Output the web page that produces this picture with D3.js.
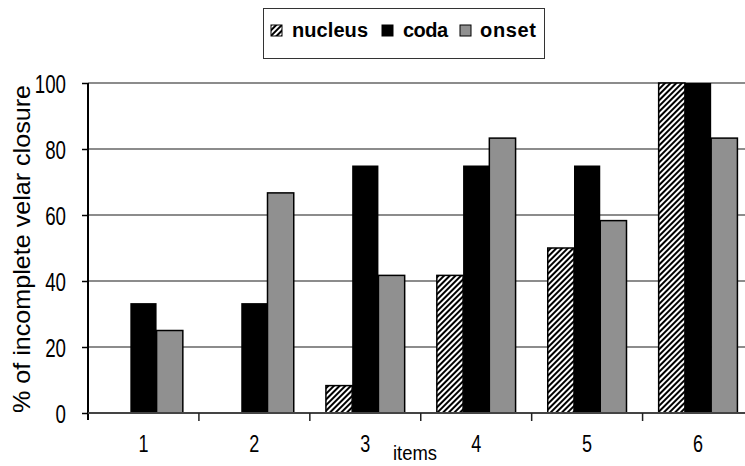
<!DOCTYPE html>
<html><head><meta charset="utf-8">
<script src="https://cdn.jsdelivr.net/npm/d3@7"></script>
<style>
html,body{margin:0;padding:0;background:#fff;}
text{font-family:"Liberation Sans",Arial,sans-serif;fill:#000;}
</style></head>
<body><svg id="c" width="745" height="466"></svg>
<script>
const categories = ["1","2","3","4","5","6"];
const seriesNames = ["nucleus","coda","onset"];
const nucleus = [0, 0, 8.3, 41.7, 50, 100];
const coda = [33.3, 33.3, 75, 75, 75, 100];
const onset = [25, 66.7, 41.7, 83.3, 58.3, 83.3];
const yTicks = [0, 20, 40, 60, 80, 100];

const svg = d3.select("#c");
const defs = svg.append("defs");
const pat = defs.append("pattern").attr("id","hatch").attr("patternUnits","userSpaceOnUse")
  .attr("width",4).attr("height",4).attr("patternTransform","rotate(45)");
pat.append("rect").attr("width",4).attr("height",4).attr("fill","#fff");
pat.append("rect").attr("x",0).attr("width",2).attr("height",4).attr("fill","#000");

const fills = {nucleus:"url(#hatch)", coda:"#000", onset:"#909090"};
const data = {nucleus, coda, onset};

const x0 = 88, x1 = 753.5, yTop = 83, yBot = 413;
const x = d3.scaleBand().domain(categories).range([x0, x1]).paddingInner(0).paddingOuter(0);
const y = d3.scaleLinear().domain([0,100]).range([yBot, yTop]);
const groupW = x.bandwidth()*0.71;
const xs = d3.scaleBand().domain(seriesNames).range([0, groupW]);

function narrow(sel, f){
  sel.each(function(){
    const w = this.getComputedTextLength();
    d3.select(this).attr("textLength", w*f).attr("lengthAdjust","spacingAndGlyphs");
  });
}

// gridlines
svg.append("g").selectAll("line").data(yTicks.filter(d=>d>0)).join("line")
  .attr("x1", x0).attr("x2", 745).attr("y1", d=>y(d)).attr("y2", d=>y(d))
  .attr("stroke","#8c8c8c").attr("stroke-width",2);

// bars
const g = svg.append("g");
seriesNames.forEach(s=>{
  g.append("g").selectAll("rect").data(categories.map((c,i)=>({c, v:data[s][i]}))).join("rect")
    .attr("x", d=> x(d.c) + (x.bandwidth()-groupW)/2 + xs(s))
    .attr("y", d=> y(d.v))
    .attr("width", xs.bandwidth())
    .attr("height", d=> yBot - y(d.v))
    .attr("fill", fills[s])
    .attr("stroke", d=> d.v>0 ? "#000" : "none")
    .attr("stroke-width", s==="coda"?0:1.5);
});

// y axis
const yAxis = d3.axisLeft(y).tickValues(yTicks).tickSize(6).tickFormat(d3.format("d")).tickPadding(16);
const ya = svg.append("g").attr("transform",`translate(${x0},0)`).call(yAxis);
ya.select(".domain").attr("stroke","#000").attr("stroke-width",2).attr("d",`M0,${yTop}V${yBot+7}`);
ya.selectAll(".tick line").attr("stroke","#000").attr("stroke-width",1.5);
ya.selectAll(".tick text").attr("font-size",26).attr("font-family",null).attr("dy","0.36em").call(narrow,0.72);

// x axis
const xAxis = d3.axisBottom(x).tickSize(0).tickPadding(26);
const xa = svg.append("g").attr("transform",`translate(0,${yBot})`).call(xAxis);
xa.select(".domain").attr("stroke","#444").attr("stroke-width",2).attr("d",`M${x0},0H745`);
xa.selectAll(".tick text").attr("font-size",24).attr("font-family",null).attr("dy","0.55em").call(narrow,0.75);
// category boundary ticks
svg.append("g").selectAll("line").data(categories.slice(1)).join("line")
  .attr("x1", d=>x(d)).attr("x2", d=>x(d)).attr("y1", yBot).attr("y2", yBot+8)
  .attr("stroke","#222").attr("stroke-width",1.5);

// axis titles
svg.append("text").attr("x", 415).attr("y", 460).attr("text-anchor","middle").attr("font-size",20)
  .attr("textLength",44).attr("lengthAdjust","spacingAndGlyphs").text("items");
svg.append("text").attr("transform","translate(30,249) rotate(-90)").attr("text-anchor","middle")
  .attr("font-size",24).attr("textLength",328).attr("lengthAdjust","spacingAndGlyphs").text("% of incomplete velar closure");

// legend
const lg = svg.append("g");
lg.append("rect").attr("x",263.5).attr("y",8.5).attr("width",281).attr("height",50)
  .attr("fill","#fff").attr("stroke","#333").attr("stroke-width",1);
const legendItems = [
  {s:"nucleus", sx:271, tx:292, tw:76},
  {s:"coda", sx:382, tx:403, tw:45},
  {s:"onset", sx:460, tx:480, tw:56}
];
legendItems.forEach(it=>{
  lg.append("rect").attr("x",it.sx).attr("y",25).attr("width",11).attr("height",11)
    .attr("fill",fills[it.s]).attr("stroke","#000").attr("stroke-width",1);
  lg.append("text").attr("x",it.tx).attr("y",37).attr("font-size",20).attr("font-weight","bold")
    .attr("textLength",it.tw).attr("lengthAdjust","spacing").text(it.s);
});
</script></body></html>
